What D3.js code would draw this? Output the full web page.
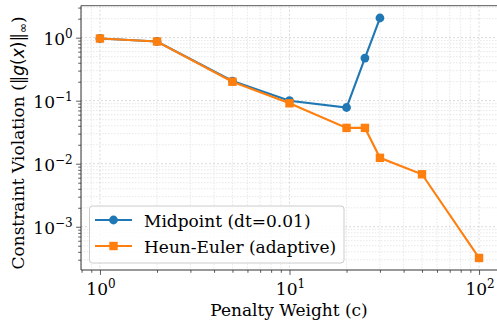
<!DOCTYPE html>
<html>
<head>
<meta charset="utf-8">
<script src="https://cdn.jsdelivr.net/npm/d3@7"></script>
<style>
  body { margin: 0; background: #fff; }
</style>
</head>
<body>
<div id="chart"></div>
<script>
// Data
const midX = [1, 2, 5, 10, 20, 25, 30];
const midY = [0.97, 0.87, 0.205, 0.1, 0.078, 0.475, 2.05];
const heunX = [1, 2, 5, 10, 20, 25, 30, 50, 100];
const heunY = [0.97, 0.87, 0.2, 0.091, 0.037, 0.037, 0.0124, 0.0068, 0.00032];
const seriesNames = ["Midpoint (dt=0.01)", "Heun-Euler (adaptive)"];
const seriesColors = ["#1f77b4", "#ff7f0e"];
const majorX = [1, 10, 100];
const majorY = [0.001, 0.01, 0.1, 1];

const SERIF = "'DejaVu Serif', serif";
const FS = 17;
const W = 497, H = 320;
const margin = { top: 5.7, right: -1, bottom: 50, left: 81 };
const x0 = margin.left, x1 = W - margin.right,
      y0 = margin.top, y1 = H - margin.bottom;

const svg = d3.select("#chart").append("svg")
    .attr("width", W)
    .attr("height", H)
    .attr("font-family", SERIF);

const x = d3.scaleLog().domain([Math.pow(10, -0.1), Math.pow(10, 2.1)]).range([x0, x1]);
const y = d3.scaleLog().domain([Math.pow(10, -3.686), Math.pow(10, 0.507)]).range([y1, y0]);

// minor tick positions inside the domain
function minors(dom) {
  const out = [];
  for (let e = -5; e <= 3; e++) {
    for (let m = 2; m <= 9; m++) {
      const v = m * Math.pow(10, e);
      if (v >= dom[0] && v <= dom[1]) out.push(v);
    }
  }
  return out;
}
const minorX = minors(x.domain());
const minorY = minors(y.domain());

// Grid
const grid = svg.append("g");
grid.selectAll(".gxm").data(minorX).join("line")
    .attr("x1", d => x(d)).attr("x2", d => x(d))
    .attr("y1", y0).attr("y2", y1)
    .attr("stroke", "#e2e2e2").attr("stroke-width", 0.8).attr("stroke-dasharray", "1.5,1.5");
grid.selectAll(".gym").data(minorY).join("line")
    .attr("y1", d => y(d)).attr("y2", d => y(d))
    .attr("x1", x0).attr("x2", x1)
    .attr("stroke", "#e2e2e2").attr("stroke-width", 0.8).attr("stroke-dasharray", "1.5,1.5");
grid.selectAll(".gxM").data(majorX).join("line")
    .attr("x1", d => x(d)).attr("x2", d => x(d))
    .attr("y1", y0).attr("y2", y1)
    .attr("stroke", "#d0d0d0").attr("stroke-width", 0.8).attr("stroke-dasharray", "2,2");
grid.selectAll(".gyM").data(majorY).join("line")
    .attr("y1", d => y(d)).attr("y2", d => y(d))
    .attr("x1", x0).attr("x2", x1)
    .attr("stroke", "#d0d0d0").attr("stroke-width", 0.8).attr("stroke-dasharray", "2,2");

// Axes
const xAxis = svg.append("g")
    .attr("transform", `translate(0,${y1})`)
    .call(d3.axisBottom(x).tickValues(majorX).tickSize(4.9).tickFormat(""));
const xMinor = svg.append("g")
    .attr("transform", `translate(0,${y1})`)
    .call(d3.axisBottom(x).tickValues(minorX).tickSize(2.8).tickFormat(""));
const yAxis = svg.append("g")
    .attr("transform", `translate(${x0},0)`)
    .call(d3.axisLeft(y).tickValues(majorY).tickSize(4.9).tickFormat(""));
const yMinor = svg.append("g")
    .attr("transform", `translate(${x0},0)`)
    .call(d3.axisLeft(y).tickValues(minorY).tickSize(2.8).tickFormat(""));
[xAxis, xMinor, yAxis, yMinor].forEach(g => {
  g.select(".domain").remove();
  g.selectAll("line").attr("stroke", "#333").attr("stroke-width", 0.8);
});

// Spines
svg.append("line").attr("x1", x0).attr("x2", x1).attr("y1", y1).attr("y2", y1)
    .attr("stroke", "#333").attr("stroke-width", 1);
svg.append("line").attr("x1", x0).attr("x2", x0).attr("y1", y0).attr("y2", y1)
    .attr("stroke", "#333").attr("stroke-width", 1);
svg.append("line").attr("x1", x0).attr("x2", x1).attr("y1", y0).attr("y2", y0)
    .attr("stroke", "#555").attr("stroke-width", 1);

// Tick labels as 10^n
function powLabel(g, v) {
  const e = Math.round(Math.log10(v));
  g.append("tspan").text("10");
  g.append("tspan").attr("dy", -7).attr("font-size", 12).text(e < 0 ? "\u2212" + (-e) : e);
}
majorX.forEach(v => {
  const t = svg.append("text")
      .attr("x", x(v) + 1).attr("y", y1 + 25)
      .attr("text-anchor", "middle").attr("font-size", FS);
  powLabel(t, v);
});
majorY.forEach(v => {
  const t = svg.append("text")
      .attr("x", x0 - 8.3).attr("y", y(v) + 7.7)
      .attr("text-anchor", "end").attr("font-size", FS);
  powLabel(t, v);
});

// Axis titles
svg.append("text")
    .attr("x", 289).attr("y", 316)
    .attr("text-anchor", "middle").attr("font-size", FS)
    .text("Penalty Weight (c)");

const yl = svg.append("text")
    .attr("transform", "translate(24,143) rotate(-90)")
    .attr("text-anchor", "middle").attr("font-size", FS);
yl.append("tspan").text("Constraint Violation (");
yl.append("tspan").attr("font-family", "DejaVu Sans").text("\u2016");
yl.append("tspan").attr("font-family", "DejaVu Sans").attr("font-style", "italic").text("g");
yl.append("tspan").attr("font-family", "DejaVu Sans").text("(");
yl.append("tspan").attr("font-family", "DejaVu Sans").attr("font-style", "italic").text("x");
yl.append("tspan").attr("font-family", "DejaVu Sans").text(")\u2016");
yl.append("tspan").attr("font-family", "DejaVu Sans").attr("font-size", 12).attr("dy", 3).text("\u221e");
yl.append("tspan").attr("dy", -3).text(")");

// Lines
const line = d3.line().x(d => x(d[0])).y(d => y(d[1]));
const midData = d3.zip(midX, midY);
const heunData = d3.zip(heunX, heunY);

svg.append("path").datum(midData)
    .attr("d", line).attr("fill", "none")
    .attr("stroke", seriesColors[0]).attr("stroke-width", 2.1);
svg.selectAll(".mid").data(midData).join("circle")
    .attr("cx", d => x(d[0])).attr("cy", d => y(d[1])).attr("r", 4.4)
    .attr("fill", seriesColors[0]);

svg.append("path").datum(heunData)
    .attr("d", line).attr("fill", "none")
    .attr("stroke", seriesColors[1]).attr("stroke-width", 2.1);
svg.selectAll(".heun").data(heunData).join("rect")
    .attr("x", d => x(d[0]) - 4.2).attr("y", d => y(d[1]) - 4.2)
    .attr("width", 8.4).attr("height", 8.4)
    .attr("fill", seriesColors[1]);

// Legend
const lg = svg.append("g");
lg.append("rect")
    .attr("x", 89.5).attr("y", 206).attr("width", 254.5).attr("height", 57)
    .attr("rx", 3).attr("fill", "#fff").attr("fill-opacity", 0.8)
    .attr("stroke", "#ccc").attr("stroke-width", 1);
seriesNames.forEach((name, i) => {
  const cy = 220 + i * 26;
  lg.append("line").attr("x1", 95).attr("x2", 132).attr("y1", cy).attr("y2", cy)
      .attr("stroke", seriesColors[i]).attr("stroke-width", 2.1);
  if (i === 0) {
    lg.append("circle").attr("cx", 113.5).attr("cy", cy).attr("r", 4.4).attr("fill", seriesColors[i]);
  } else {
    lg.append("rect").attr("x", 113.5 - 4.2).attr("y", cy - 4.2)
        .attr("width", 8.4).attr("height", 8.4).attr("fill", seriesColors[i]);
  }
  lg.append("text").attr("x", 144).attr("y", cy + 6.5)
      .attr("font-size", FS).text(name);
});
</script>
</body>
</html>
